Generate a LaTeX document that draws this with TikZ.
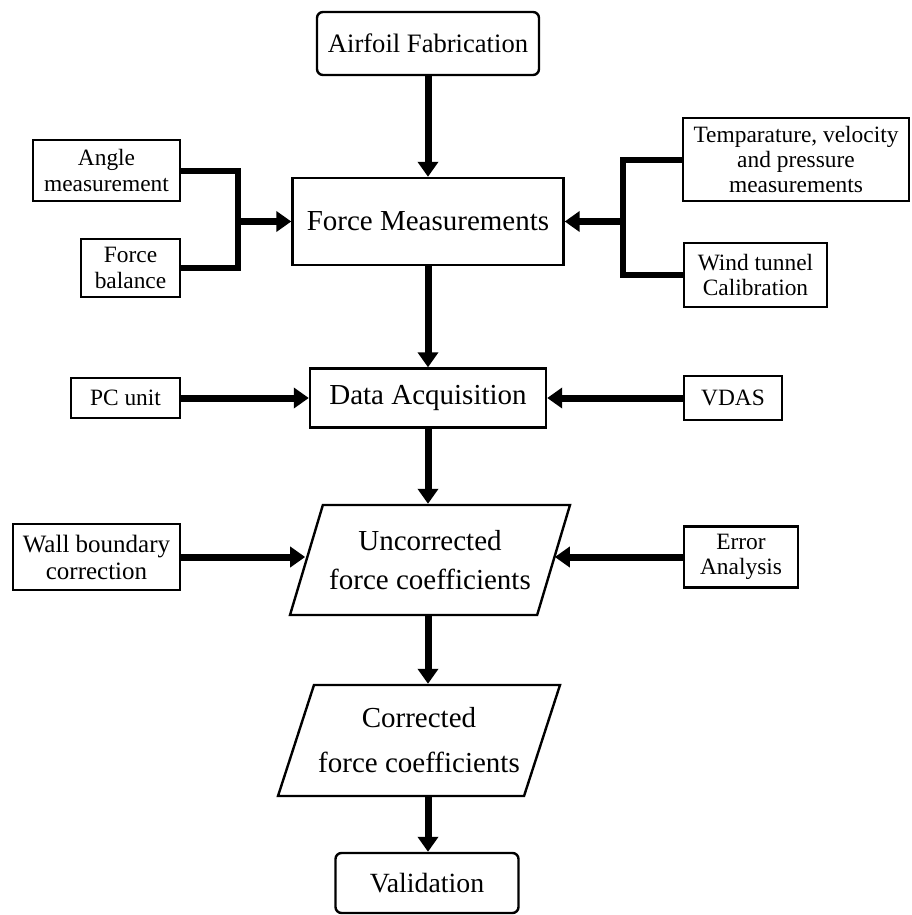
\documentclass[tikz,border=0pt]{standalone}
\usepackage{fontspec}
\setmainfont{Liberation Serif}
\usetikzlibrary{arrows.meta,calc,positioning,shapes.geometric}

\begin{document}
\begin{tikzpicture}[x=0.5pt,y=-0.5pt,
  box/.style={draw,line width=1.2pt,align=center,inner sep=1pt},
  main/.style={box,font=\fontsize{14.5}{19.5}\selectfont},
  side/.style={box,font=\fontsize{11.7}{12.6}\selectfont},
  term/.style={main,rounded corners=3pt},
  io/.style={main,trapezium,trapezium left angle=62.6,trapezium right angle=117.4,trapezium stretches body},
  arr/.style={line width=3.5pt,-{Triangle[length=7.5pt,width=10pt]}},
  branch/.style={line width=3pt}]
\useasboundingbox (0,0) rectangle (911,915);
% main column
\node[term,minimum width=111pt,minimum height=31.5pt,font=\fontsize{13.3}{16}\selectfont] (fab) at (428,43.5) {Airfoil Fabrication};
\node[main,minimum width=135.5pt,minimum height=43.5pt] (force) at (428,221.5) {Force Measurements};
\node[main,minimum width=118pt,minimum height=29.5pt] (daq) at (428,398) {Data Acquisition};
\node[io,minimum width=140pt,minimum height=55pt] (uncorr) at (430,560) {Uncorrected\\force coefficients};
\node[io,minimum width=141pt,minimum height=55.5pt,font=\fontsize{14.5}{22.5}\selectfont] (corr) at (419,740.5) {Corrected\\force coefficients};
\node[term,minimum width=91.5pt,minimum height=30pt,font=\fontsize{13.9}{16}\selectfont] (valid) at (427,883) {Validation};
% inputs
\node[side,minimum width=73.5pt,minimum height=30.5pt] (angle) at (106.5,170.5) {Angle\\measurement};
\node[side,minimum width=49.5pt,minimum height=29pt] (balance) at (130.5,268) {Force\\balance};
\node[side,minimum width=113pt,minimum height=41.5pt] (temp) at (796,159.5) {Temparature, velocity\\and pressure\\measurements};
\node[side,minimum width=71.5pt,minimum height=32pt] (wind) at (755.5,275) {Wind tunnel\\Calibration};
\node[side,minimum width=54.5pt,minimum height=20pt] (pc) at (125.5,398) {PC unit};
\node[side,minimum width=49pt,minimum height=22pt] (vdas) at (733,398) {VDAS};
\node[side,minimum width=83.5pt,minimum height=33pt,font=\fontsize{12.5}{13.5}\selectfont] (wall) at (96.5,557) {Wall boundary\\correction};
\node[side,minimum width=57pt,minimum height=30.5pt] (error) at (741,557) {Error\\Analysis};
% connectors
\draw[arr] (fab) -- (force);
\draw[arr] (force) -- (daq);
\draw[arr] (daq) -- (uncorr.north -| daq);
\draw[arr] (uncorr.south -| daq) -- (daq |- corr.north);
\draw[arr] (daq |- corr.south) -- (valid.north -| daq);
\coordinate (jl) at ([xshift=-26.5pt]force.west);
\draw[branch] (angle.east) -| (jl) |- (balance.east);
\draw[arr] (jl) -- (force.west);
\coordinate (jr) at ([xshift=29pt]force.east);
\draw[branch] (temp.west) -| (jr) |- (wind.west);
\draw[arr] (jr) -- (force.east);
\draw[arr] (pc) -- (daq);
\draw[arr] (vdas) -- (daq);
\draw[arr] (wall.east) -- (wall.east -| uncorr.west);
\draw[arr] (error.west) -- (error.west -| uncorr.east);
\end{tikzpicture}
\end{document}
